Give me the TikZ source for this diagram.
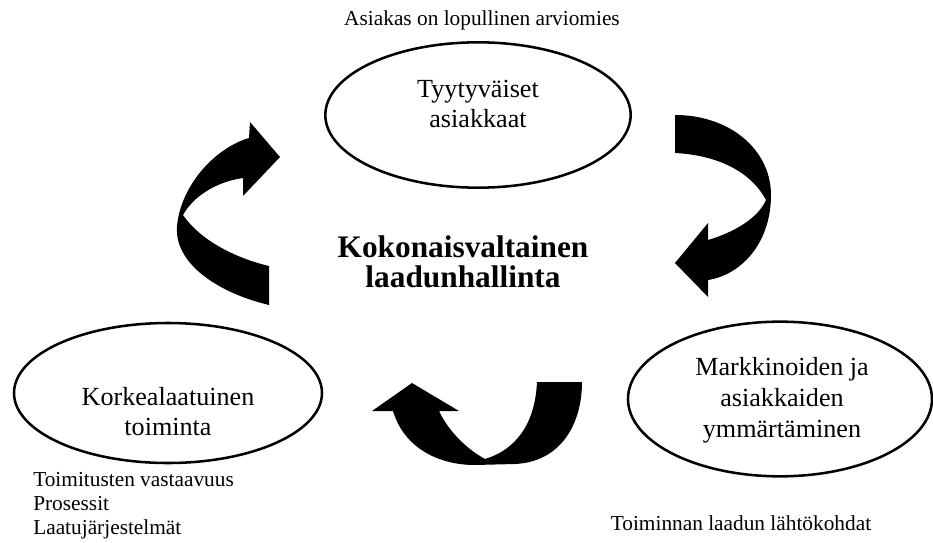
\documentclass[tikz,border=0pt]{standalone}
\usepackage{fontspec}
\setmainfont{Liberation Serif}
\usetikzlibrary{shapes.geometric}
\begin{document}
\begin{tikzpicture}[x=0.75pt,y=-0.75pt,
  bubble/.style={draw=black, line width=1.9pt, ellipse, inner sep=0pt},
  bigtext/.style={font=\fontsize{19.6}{22.5}\selectfont, align=center, inner sep=0pt, anchor=base},
  note/.style={font=\fontsize{16}{18}\selectfont, inner sep=0pt, anchor=base west, align=left},
  hub/.style={font=\fontsize{23.5}{22.5}\selectfont\bfseries, align=center, inner sep=0pt, anchor=base},
  ribbon/.style={fill=black}]
\useasboundingbox (0,0) rectangle (933,543);

% the three ellipses
\node[bubble, minimum width=229pt, minimum height=109pt] (top) at (478,115) {};
\node[bubble, minimum width=231pt, minimum height=105pt] (left) at (168,393) {};
\node[bubble, minimum width=228pt, minimum height=116pt] (right) at (780,399) {};

% texts inside the ellipses (placed by the baseline of their last line)
\node[bigtext] (toptxt) at (478,127) {Tyytyväiset\\asiakkaat};
\node[bigtext] (lefttxt) at (168,435) {Korkealaatuinen\\toiminta};
\node[bigtext, font=\fontsize{19.6}{23.2}\selectfont] (righttxt) at (782,437) {Markkinoiden ja\\asiakkaiden\\ymmärtäminen};

% central title
\node[hub] (hub) at (463,287) {Kokonaisvaltainen\\laadunhallinta};

% side notes
\node[note, anchor=base] (verdict) at (482,25) {Asiakas on lopullinen arviomies};
\node[note] (leftnotes) at (33,534) {Toimitusten vastaavuus\\Prosessit\\Laatujärjestelmät};
\node[note, anchor=base] (rightnote) at (741,530) {Toiminnan laadun lähtökohdat};

% curved arrow, left: up towards the top ellipse
\fill[ribbon] (269,305) .. controls (215,292) and (174,262) .. (177,226)
  .. controls (181,185) and (215,148) .. (249,138)
  -- (250,122) -- (280,157) -- (243,196) -- (243,178)
  .. controls (215,182) and (193,197) .. (183,215)
  .. controls (200,240) and (235,258) .. (269,266) -- cycle;

% curved arrow, right: down towards the right ellipse
\fill[ribbon] (675,115) .. controls (730,115) and (772,150) .. (771,197)
  .. controls (770,245) and (740,275) .. (708,280)
  -- (708,297) -- (675,263) -- (708,223) -- (708,240)
  .. controls (735,232) and (758,218) .. (766,200)
  .. controls (750,170) and (715,155) .. (675,153) -- cycle;

% curved arrow, bottom: U-turn towards the left ellipse
\fill[ribbon] (393,411) .. controls (403,445) and (435,465) .. (475,465)
  -- (515,464) .. controls (560,462) and (582,425) .. (582,382)
  -- (537,382)
  .. controls (535,425) and (515,450) .. (485,459)
  .. controls (465,448) and (448,430) .. (439,411)
  -- (459,411) -- (412,383) -- (372,411) -- cycle;
\end{tikzpicture}
\end{document}
